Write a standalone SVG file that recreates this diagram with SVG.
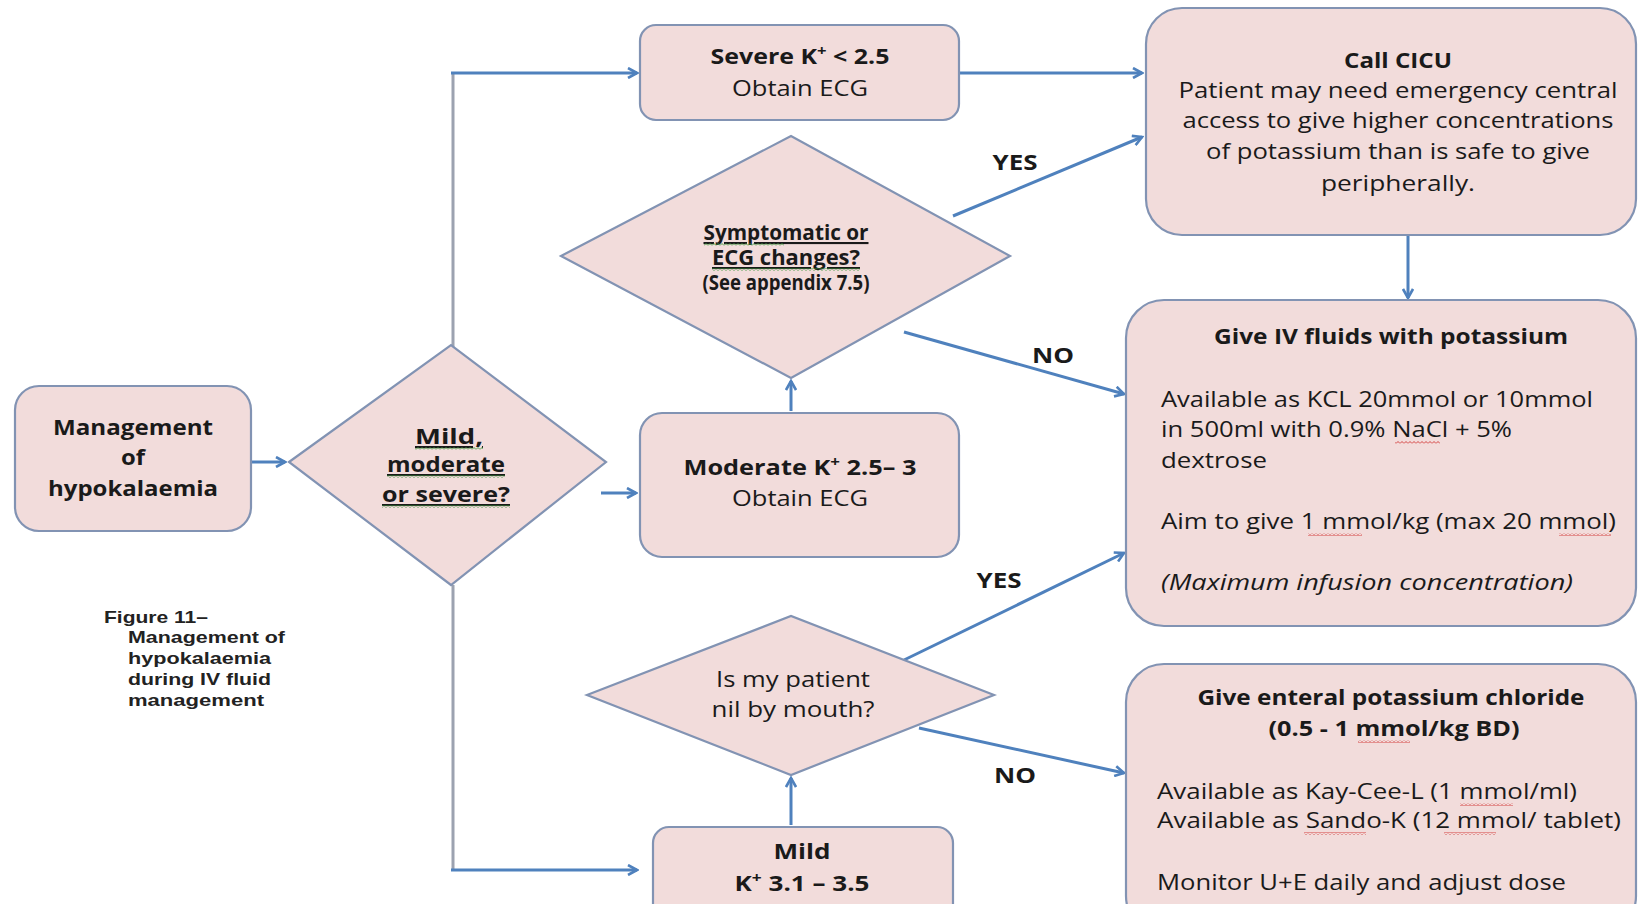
<svg xmlns="http://www.w3.org/2000/svg" width="1638" height="904" viewBox="0 0 1638 904">
<defs>
<style>
.box{fill:#f2dcdb;stroke:#8293b3;stroke-width:2.2}
.t{font-family:"Open Sans","Liberation Sans",sans-serif;fill:#1a1a1a;font-size:21px}
.b{font-weight:bold}
.c{text-anchor:middle}
.con{stroke:#4f81bd;stroke-width:3;fill:none}
.gry{stroke:#9ca2b0;stroke-width:3;fill:none}
.lbl{font-family:"Open Sans","Liberation Sans",sans-serif;font-weight:bold;font-size:22px;fill:#1a1a1a}
.cap{font-family:"Liberation Sans",Arial,sans-serif;font-weight:bold;font-size:17px;fill:#222}
</style>
<marker id="ah" viewBox="0 0 12 12" refX="10" refY="6" markerWidth="12" markerHeight="12" markerUnits="userSpaceOnUse" orient="auto">
<path d="M1,1 L10,6 L1,11" fill="none" stroke="#4f81bd" stroke-width="2.6"/>
</marker>
<pattern id="wr" width="4" height="3" patternUnits="userSpaceOnUse">
<path d="M0,2.5 L2,0.5 L4,2.5" fill="none" stroke="#d03030" stroke-width="0.9"/>
</pattern>
<pattern id="wg" width="4" height="3" patternUnits="userSpaceOnUse">
<path d="M0,2.5 L2,0.5 L4,2.5" fill="none" stroke="#3a9a3a" stroke-width="0.9"/>
</pattern>
</defs>
<rect width="1638" height="904" fill="#ffffff"/>

<g id="connectors">
<line class="con" x1="251" y1="462" x2="285" y2="462" marker-end="url(#ah)"/>
<path class="gry" d="M453,352 V73"/>
<path class="con" d="M451,73 H637" marker-end="url(#ah)"/>
<path class="gry" d="M453,585 V870"/>
<path class="con" d="M451,870 H637" marker-end="url(#ah)"/>
<line class="con" x1="601" y1="493" x2="636" y2="493" marker-end="url(#ah)"/>
<line class="con" x1="959" y1="73" x2="1142" y2="73" marker-end="url(#ah)"/>
<line class="con" x1="953" y1="216" x2="1142" y2="137" marker-end="url(#ah)"/>
<line class="con" x1="904" y1="332" x2="1124" y2="394" marker-end="url(#ah)"/>
<line class="con" x1="1408" y1="235" x2="1408" y2="298" marker-end="url(#ah)"/>
<line class="con" x1="791" y1="411" x2="791" y2="381" marker-end="url(#ah)"/>
<line class="con" x1="904" y1="660" x2="1124" y2="553" marker-end="url(#ah)"/>
<line class="con" x1="919" y1="728" x2="1124" y2="773" marker-end="url(#ah)"/>
<line class="con" x1="791" y1="825" x2="791" y2="778" marker-end="url(#ah)"/>
<text class="lbl c" x="1015" y="170" textLength="45" lengthAdjust="spacingAndGlyphs">YES</text>
<text class="lbl c" x="1053" y="363" textLength="42" lengthAdjust="spacingAndGlyphs">NO</text>
<text class="lbl c" x="999" y="588" textLength="45" lengthAdjust="spacingAndGlyphs">YES</text>
<text class="lbl c" x="1015" y="783" textLength="42" lengthAdjust="spacingAndGlyphs">NO</text>
</g>

<g id="n-management">
<rect class="box" x="15" y="386" width="236" height="145" rx="24"/>
<text class="t b c" x="133" y="435" textLength="160" lengthAdjust="spacingAndGlyphs">Management</text>
<text class="t b c" x="133" y="465" textLength="24" lengthAdjust="spacingAndGlyphs">of</text>
<text class="t b c" x="133" y="496" textLength="170" lengthAdjust="spacingAndGlyphs">hypokalaemia</text>
</g>

<g id="n-severity">
<polygon class="box" points="289,462 451,345 606,462 451,585"/>
<text class="t b c" x="449" y="444" textLength="68" lengthAdjust="spacingAndGlyphs" text-decoration="underline">Mild,</text>
<text class="t b c" x="446" y="472" textLength="118" lengthAdjust="spacingAndGlyphs" text-decoration="underline">moderate</text>
<text class="t b c" x="446" y="502" textLength="128" lengthAdjust="spacingAndGlyphs" text-decoration="underline">or severe?</text>
<rect x="415" y="447" width="68" height="3" fill="url(#wg)"/>
<rect x="387" y="475" width="118" height="3" fill="url(#wg)"/>
<rect x="382" y="505" width="128" height="3" fill="url(#wg)"/>
</g>

<g id="n-severe">
<rect class="box" x="640" y="25" width="319" height="95" rx="16"/>
<text class="t b c" x="800" y="64" textLength="179" lengthAdjust="spacingAndGlyphs">Severe K<tspan font-size="14" dy="-8">+</tspan><tspan dy="8"> &lt; 2.5</tspan></text>
<text class="t c" x="800" y="96" textLength="136" lengthAdjust="spacingAndGlyphs">Obtain ECG</text>
</g>

<g id="n-cicu">
<rect class="box" x="1146" y="8" width="490" height="227" rx="36"/>
<text class="t b c" x="1398" y="68" textLength="108" lengthAdjust="spacingAndGlyphs">Call CICU</text>
<text class="t c" x="1398" y="98" textLength="439" lengthAdjust="spacingAndGlyphs">Patient may need emergency central</text>
<text class="t c" x="1398" y="128" textLength="431" lengthAdjust="spacingAndGlyphs">access to give higher concentrations</text>
<text class="t c" x="1398" y="159" textLength="384" lengthAdjust="spacingAndGlyphs">of potassium than is safe to give</text>
<text class="t c" x="1398" y="191" textLength="154" lengthAdjust="spacingAndGlyphs">peripherally.</text>
</g>

<g id="n-symptomatic">
<polygon class="box" points="561,256 791,136 1010,256 791,378"/>
<text class="t b c" x="786" y="240" font-size="16" textLength="165" lengthAdjust="spacingAndGlyphs" text-decoration="underline">Symptomatic or</text>
<text class="t b c" x="786" y="265" font-size="16" textLength="148" lengthAdjust="spacingAndGlyphs" text-decoration="underline">ECG changes?</text>
<text class="t b c" x="786" y="290" font-size="14" textLength="167" lengthAdjust="spacingAndGlyphs">(See appendix 7.5)</text>
<rect x="704" y="243" width="80" height="3" fill="url(#wg)"/>
<rect x="712" y="268" width="148" height="3" fill="url(#wg)"/>
</g>

<g id="n-moderate">
<rect class="box" x="640" y="413" width="319" height="144" rx="22"/>
<text class="t b c" x="800" y="475" textLength="233" lengthAdjust="spacingAndGlyphs">Moderate K<tspan font-size="14" dy="-8">+</tspan><tspan dy="8"> 2.5– 3</tspan></text>
<text class="t c" x="800" y="506" textLength="136" lengthAdjust="spacingAndGlyphs">Obtain ECG</text>
</g>

<g id="n-nbm">
<polygon class="box" points="587,695 791,616 994,695 791,775"/>
<text class="t c" x="793" y="687" textLength="154" lengthAdjust="spacingAndGlyphs">Is my patient</text>
<text class="t c" x="793" y="717" textLength="163" lengthAdjust="spacingAndGlyphs">nil by mouth?</text>
</g>

<g id="n-mild">
<rect class="box" x="653" y="827" width="300" height="100" rx="16"/>
<text class="t b c" x="802" y="859" textLength="57" lengthAdjust="spacingAndGlyphs">Mild</text>
<text class="t b c" x="802" y="891" textLength="135" lengthAdjust="spacingAndGlyphs">K<tspan font-size="14" dy="-8">+</tspan><tspan dy="8"> 3.1 – 3.5</tspan></text>
</g>

<g id="n-iv">
<rect class="box" x="1126" y="300" width="510" height="326" rx="38"/>
<text class="t b c" x="1391" y="344" textLength="354" lengthAdjust="spacingAndGlyphs">Give IV fluids with potassium</text>
<text class="t" x="1161" y="407" textLength="432" lengthAdjust="spacingAndGlyphs">Available as KCL 20mmol or 10mmol</text>
<text class="t" x="1161" y="437" textLength="351" lengthAdjust="spacingAndGlyphs">in 500ml with 0.9% NaCl + 5%</text>
<text class="t" x="1161" y="468" textLength="106" lengthAdjust="spacingAndGlyphs">dextrose</text>
<text class="t" x="1161" y="529" textLength="455" lengthAdjust="spacingAndGlyphs">Aim to give 1 mmol/kg (max 20 mmol)</text>
<text class="t" x="1161" y="590" font-style="italic" textLength="412" lengthAdjust="spacingAndGlyphs">(Maximum infusion concentration)</text>
<rect x="1395" y="441" width="45" height="3" fill="url(#wr)"/>
<rect x="1308" y="533" width="54" height="3" fill="url(#wr)"/>
<rect x="1559" y="533" width="52" height="3" fill="url(#wr)"/>
</g>

<g id="n-enteral">
<rect class="box" x="1126" y="664" width="510" height="270" rx="38"/>
<text class="t b c" x="1391" y="705" textLength="387" lengthAdjust="spacingAndGlyphs">Give enteral potassium chloride</text>
<text class="t b c" x="1394" y="736" textLength="251" lengthAdjust="spacingAndGlyphs">(0.5 - 1 mmol/kg BD)</text>
<text class="t" x="1157" y="799" textLength="420" lengthAdjust="spacingAndGlyphs">Available as Kay-Cee-L (1 mmol/ml)</text>
<text class="t" x="1157" y="828" textLength="464" lengthAdjust="spacingAndGlyphs">Available as Sando-K (12 mmol/ tablet)</text>
<text class="t" x="1157" y="890" textLength="409" lengthAdjust="spacingAndGlyphs">Monitor U+E daily and adjust dose</text>
<rect x="1358" y="740" width="52" height="3" fill="url(#wr)"/>
<rect x="1460" y="803" width="53" height="3" fill="url(#wr)"/>
<rect x="1304" y="832" width="62" height="3" fill="url(#wr)"/>
<rect x="1444" y="832" width="52" height="3" fill="url(#wr)"/>
</g>

<g id="caption">
<text class="cap" x="104" y="623" textLength="104" lengthAdjust="spacingAndGlyphs">Figure 11–</text>
<text class="cap" x="128" y="643" textLength="157" lengthAdjust="spacingAndGlyphs">Management of</text>
<text class="cap" x="128" y="664" textLength="143" lengthAdjust="spacingAndGlyphs">hypokalaemia</text>
<text class="cap" x="128" y="685" textLength="143" lengthAdjust="spacingAndGlyphs">during IV fluid</text>
<text class="cap" x="128" y="706" textLength="136" lengthAdjust="spacingAndGlyphs">management</text>
</g>
</svg>
